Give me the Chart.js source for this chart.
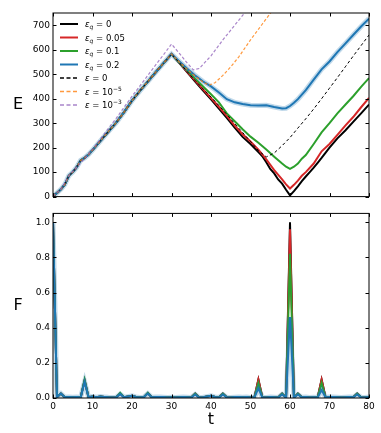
<!DOCTYPE html>
<html><head><meta charset="utf-8">
<script src="https://cdn.jsdelivr.net/npm/chart.js@4"></script>
<style>
html,body{margin:0;padding:0;background:#fff;}
#w{position:relative;width:381px;height:433px;overflow:hidden;}
#c1{position:absolute;left:0;top:0;}
#c2{position:absolute;left:0;top:205px;}
</style></head><body>
<div id="w"><canvas id="c1" width="381" height="205"></canvas><canvas id="c2" width="381" height="228"></canvas></div>
<script>
// ---------- tick labels ----------
const tTicks = [0,10,20,30,40,50,60,70,80];
const eTicks = [0,100,200,300,400,500,600,700];
const fTicks = [0,0.2,0.4,0.6,0.8,1.0];

// ---------- legend labels ----------
const legendLabels = ["ε_q = 0","ε_q = 0.05","ε_q = 0.1","ε_q = 0.2","ε = 0","ε = 10^{−5}","ε = 10^{−3}"];

// ---------- top panel: E(t) ----------
const tRise = [0,1,2,3,4,5,6,7,8,9,10,12,14,16,18,20,22,24,26,28,30];
const ERise = [2,15,30,50,85,100,120,148,158,172,190,228,265,302,345,392,432,470,508,545,582];

const tEq0 = [32,34,36,38,40,42,44,46,48,50,52,53,54,55,56,57,58,59,60,61,62,63,64,65,66,67,68,70,72,74,76,78,80];
const EEq0 = [545,508,470,433,397,360,322,282,244,215,182,165,140,113,95,70,53,28,5,22,42,63,82,100,118,138,158,200,238,270,305,340,376];

const tEq005 = [32,34,36,38,40,42,44,46,48,50,52,54,56,58,59,60,61,62,63,64,66,68,70,72,74,76,78,80];
const EEq005 = [546,510,474,438,402,367,330,290,255,225,192,152,108,70,50,33,48,65,85,100,135,185,215,252,290,325,365,403];

const tEq01 = [32,34,36,38,40,42,44,46,48,50,52,54,56,58,59,60,61,62,63,64,66,68,70,72,74,76,78,80];
const EEq01 = [548,515,482,450,418,385,340,308,275,245,220,192,163,135,122,113,122,135,155,170,215,262,300,340,375,410,448,484];

const tEq02 = [32,34,36,38,40,42,44,46,48,50,52,54,56,58,59,60,61,62,64,66,68,70,72,74,76,78,80];
const EEq02 = [552,522,495,470,450,425,398,385,378,373,372,373,366,360,361,370,383,398,435,478,520,552,590,625,660,695,727];

const tE0 = [32,34,36,38,40,42,44,46,48,50,52,54,56,58,60,62,64,66,68,70,72,74,76,78,80];
const EE0 = [547,510,474,440,407,372,336,298,262,225,188,162,178,208,241,280,318,358,400,443,486,530,574,617,660];

const tE5 = [32,34,36,38,39.5,41,43,45,47,50,53,56];
const EE5 = [550,520,492,468,455,465,495,530,570,640,705,770];

const tE3 = [0,2,4,6,8,10,12,14,16,18,20,22,24,26,28,30,32,34,35.5,37,40,43,46,49];
const EE3 = [2,30,85,120,155,192,235,278,320,365,410,452,495,538,580,623,585,545,518,523,575,640,700,760];

// ---------- bottom panel: F(t) ----------
const tF = [0,1,2,3,4,5,6,7,8,9,10,11,12,13,14,15,16,17,18,19,20,21,22,23,24,25,26,27,28,29,30,31,32,33,34,35,36,37,38,39,40,41,42,43,44,45,46,47,48,49,50,51,52,53,54,55,56,57,58,59,60,61,62,63,64,65,66,67,68,69,70,71,72,73,74,75,76,77,78,79,80];
const FEq0 = [1.0,0.005,0.025,0.004,0.006,0.004,0.005,0.003,0.100,0.004,
 0.008,0.005,0.008,0.006,0.004,0.003,0.004,0.025,0.004,0.008,
 0.012,0.006,0.003,0.005,0.028,0.004,0.005,0.006,0.005,0.003,
 0.004,0.003,0.004,0.005,0.004,0.003,0.025,0.003,0.004,0.008,
 0.012,0.006,0.003,0.025,0.004,0.003,0.005,0.006,0.004,0.005,
 0.003,0.004,0.105,0.004,0.003,0.005,0.004,0.003,0.025,0.003,
 1.0,0.003,0.025,0.004,0.005,0.003,0.004,0.003,0.105,0.004,
 0.006,0.005,0.004,0.003,0.004,0.005,0.004,0.025,0.004,0.003,
 0.006];
const FEq005 = [1.0,0.005,0.025,0.004,0.006,0.004,0.005,0.003,0.100,0.004,
 0.008,0.005,0.008,0.006,0.004,0.003,0.004,0.025,0.004,0.008,
 0.012,0.006,0.003,0.005,0.028,0.004,0.005,0.006,0.005,0.003,
 0.004,0.003,0.004,0.005,0.004,0.003,0.025,0.003,0.004,0.008,
 0.012,0.006,0.003,0.025,0.004,0.003,0.005,0.006,0.004,0.005,
 0.003,0.004,0.105,0.004,0.003,0.005,0.004,0.003,0.025,0.003,
 0.96,0.003,0.025,0.004,0.005,0.003,0.004,0.003,0.105,0.004,
 0.006,0.005,0.004,0.003,0.004,0.005,0.004,0.025,0.004,0.003,
 0.006];
const FEq01 = [1.0,0.005,0.025,0.004,0.006,0.004,0.005,0.003,0.105,0.004,
 0.008,0.005,0.008,0.006,0.004,0.003,0.004,0.030,0.004,0.008,
 0.012,0.006,0.003,0.005,0.030,0.004,0.005,0.006,0.005,0.003,
 0.004,0.003,0.004,0.005,0.004,0.003,0.025,0.003,0.004,0.008,
 0.012,0.006,0.003,0.025,0.004,0.003,0.005,0.006,0.004,0.005,
 0.003,0.004,0.085,0.004,0.003,0.005,0.004,0.003,0.025,0.003,
 0.82,0.003,0.025,0.004,0.005,0.003,0.004,0.003,0.085,0.004,
 0.006,0.005,0.004,0.003,0.004,0.005,0.004,0.025,0.004,0.003,
 0.006];
const FEq02 = [1.0,0.005,0.025,0.004,0.006,0.004,0.005,0.003,0.092,0.004,
 0.008,0.005,0.008,0.006,0.004,0.003,0.004,0.022,0.004,0.008,
 0.012,0.006,0.003,0.005,0.025,0.004,0.005,0.006,0.005,0.003,
 0.004,0.003,0.004,0.005,0.004,0.003,0.020,0.003,0.004,0.008,
 0.012,0.006,0.003,0.020,0.004,0.003,0.005,0.006,0.004,0.005,
 0.003,0.004,0.055,0.004,0.003,0.005,0.004,0.003,0.020,0.003,
 0.46,0.003,0.020,0.004,0.005,0.003,0.004,0.003,0.045,0.004,
 0.006,0.005,0.004,0.003,0.004,0.005,0.004,0.020,0.004,0.003,
 0.006];

// ---------- helpers ----------
const FAM = '"DejaVu Sans", "Liberation Sans", sans-serif';
const pts = (xs, ys) => xs.map((x, i) => ({x, y: ys[i]}));
const BLACK='#000000', RED='#d62728', GREEN='#2ca02c', BLUE='#1f77b4';
const ORANGE='rgba(255,127,14,0.8)', PURPLE='rgba(148,103,189,0.8)';

function line(data, color, width, order, dash) {
  return {data, borderColor: color, borderWidth: width, borderDash: dash || [],
    pointRadius: 0, tension: 0, fill: false, order, spanGaps: true};
}

function drawMath(ctx, s, x, y, size) {
  let i = 0;
  const put = (str, italic, sc, dy) => {
    ctx.font = (italic ? 'italic ' : '') + (size * sc) + 'px ' + FAM;
    ctx.fillText(str, x, y + dy);
    x += ctx.measureText(str).width;
  };
  const isLetter = c => /[a-zA-Zα-ω]/.test(c);
  while (i < s.length) {
    const c = s[i];
    if (c === '_') { const n = s[i+1]; put(n, isLetter(n), 0.7, size*0.25); i += 2; continue; }
    if (c === '^') { const j = s.indexOf('}', i); put(s.slice(i+2, j), false, 0.7, -size*0.42); i = j + 1; continue; }
    put(c, isLetter(c), 1, 0); i++;
  }
}

const framePlugin = {
  id: 'frame',
  afterDraw(chart, args, opts) {
    const {ctx, chartArea: a, scales} = chart;
    ctx.save();
    ctx.strokeStyle = '#000'; ctx.lineWidth = 1;
    ctx.strokeRect(a.left, a.top, a.right - a.left, a.bottom - a.top);
    const L = 3.5;
    ctx.beginPath();
    scales.x.ticks.forEach(tk => {
      const p = Math.round(scales.x.getPixelForValue(tk.value)) + 0.5;
      ctx.moveTo(p, a.bottom); ctx.lineTo(p, a.bottom - L);
      ctx.moveTo(p, a.top); ctx.lineTo(p, a.top + L);
    });
    scales.y.ticks.forEach(tk => {
      const p = Math.round(scales.y.getPixelForValue(tk.value)) + 0.5;
      ctx.moveTo(a.left, p); ctx.lineTo(a.left + L, p);
      ctx.moveTo(a.right, p); ctx.lineTo(a.right - L, p);
    });
    ctx.stroke();
    ctx.fillStyle = '#000';
    ctx.textAlign = 'center'; ctx.textBaseline = 'middle';
    ctx.font = '16px ' + FAM;
    ctx.fillText(opts.ylabel, a.left - 35, (a.top + a.bottom) / 2);
    if (opts.xlabel) ctx.fillText(opts.xlabel, (a.left + a.right) / 2, a.bottom + 22);
    if (opts.legend) {
      ctx.textAlign = 'left'; ctx.textBaseline = 'alphabetic';
      const ds = chart.data.datasets;
      opts.legend.forEach((idx, r) => {
        const d = ds[idx];
        const y = 24 + r * 13.5;
        const dashed = d.borderDash && d.borderDash.length;
        ctx.strokeStyle = d.borderColor;
        ctx.lineWidth = dashed ? 1.6 : d.borderWidth;
        ctx.setLineDash(dashed ? [4, 2.5] : []);
        ctx.beginPath(); ctx.moveTo(60, y); ctx.lineTo(78, y); ctx.stroke();
        ctx.setLineDash([]);
        ctx.fillStyle = '#000';
        drawMath(ctx, legendLabels[r], 85, y + 3, 8.5);
      });
    }
    ctx.restore();
  }
};

function scaleOpts(min, max, tickVals, showLabels, fmt, fit) {
  return {
    type: 'linear', min, max,
    grid: {display: false, drawTicks: false},
    border: {display: false},
    afterBuildTicks: s => { s.ticks = tickVals.map(v => ({value: v})); },
    afterFit: fit,
    ticks: {display: showLabels, padding: 3, color: '#000',
      font: {family: FAM, size: 9}, autoSkip: false, maxRotation: 0,
      callback: fmt}
  };
}

Chart.defaults.animation = false;

new Chart(document.getElementById('c1'), {
  type: 'line',
  data: {datasets: [
    line(pts(tRise.concat(tEq0), ERise.concat(EEq0)), BLACK, 2, 8),
    line(pts(tRise.concat(tEq005), ERise.concat(EEq005)), RED, 2, 7),
    line(pts(tRise.concat(tEq01), ERise.concat(EEq01)), GREEN, 2, 6),
    line(pts(tRise.concat(tEq02), ERise.concat(EEq02)), BLUE, 2, 4),
    line(pts(tRise.concat(tE0), ERise.concat(EE0)), BLACK, 1, 3, [3, 2.5]),
    line(pts(tRise.concat(tE5), ERise.concat(EE5)), ORANGE, 1.2, 2, [3, 2]),
    line(pts(tE3, EE3), PURPLE, 1.2, 1, [3, 2]),
    line(pts(tRise.concat(tEq02), ERise.concat(EEq02)), 'rgba(31,119,180,0.28)', 5, 5)
  ]},
  options: {
    responsive: false, animation: false, events: [],
    layout: {padding: {left: 0, right: 12, top: 13, bottom: 0}},
    plugins: {legend: {display: false}, tooltip: {enabled: false},
      frame: {ylabel: 'E', legend: [0,1,2,3,4,5,6]}},
    scales: {
      x: scaleOpts(0, 80, tTicks, false, v => v, s => { s.height = 7; }),
      y: scaleOpts(0, 750, eTicks, true, v => String(v), s => { s.width = 53; })
    }
  },
  plugins: [framePlugin]
});

new Chart(document.getElementById('c2'), {
  type: 'line',
  data: {datasets: [
    line(pts(tF, FEq0), BLACK, 2, 8),
    line(pts(tF, FEq005), RED, 2, 7),
    line(pts(tF, FEq01), GREEN, 2, 6),
    line(pts(tF, FEq02), 'rgba(31,119,180,0.28)', 5, 5),
    line(pts(tF, FEq02), BLUE, 2, 4)
  ]},
  options: {
    responsive: false, animation: false, events: [],
    layout: {padding: {left: 0, right: 12, top: 8, bottom: 0}},
    plugins: {legend: {display: false}, tooltip: {enabled: false},
      frame: {ylabel: 'F', xlabel: 't'}},
    scales: {
      x: scaleOpts(0, 80, tTicks, true, v => String(v), s => { s.height = 35; }),
      y: scaleOpts(0, 1.05, fTicks, true, v => v.toFixed(1), s => { s.width = 53; })
    }
  },
  plugins: [framePlugin]
});
</script>
</body></html>
